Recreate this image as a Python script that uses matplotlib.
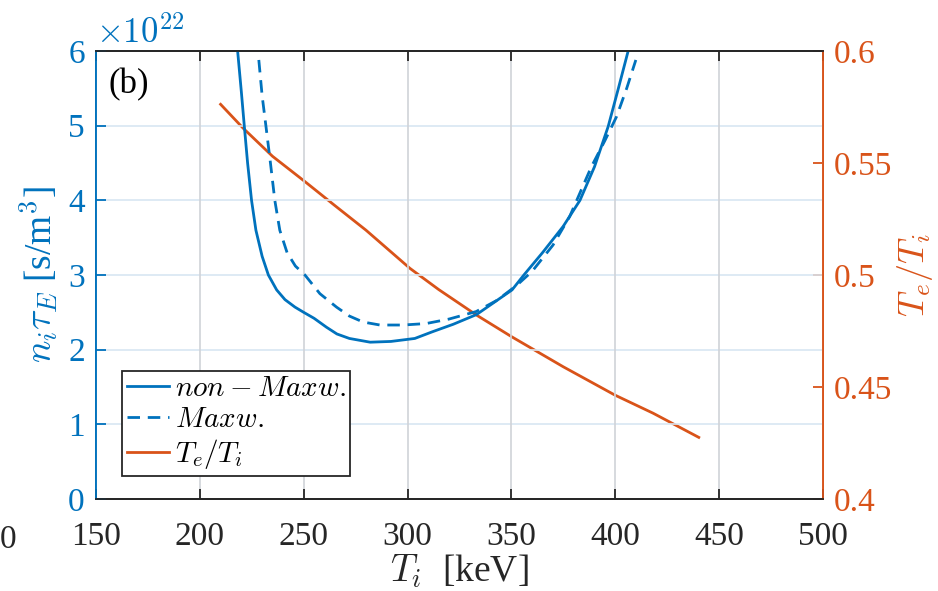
import matplotlib.pyplot as plt
from matplotlib.ticker import FixedLocator

plt.rcParams['font.family'] = ['Liberation Serif', 'DejaVu Serif']
plt.rcParams['mathtext.fontset'] = 'cm'

BLUE = '#0072BD'
ORANGE = '#D95319'
DARK = '#262626'

# non-Maxwellian n_i tau_E (x1e22)
t_nonmax = [218.2, 220.0, 221.4, 223.0, 224.9, 227.0, 230.0, 233.0, 237.0, 241.0,
            245.8, 250.0, 255.0, 261.0, 266.0, 272.0, 282.0, 292.0, 303.5, 312.0,
            322.0, 333.2, 341.0, 350.3, 356.0, 365.0, 374.9, 383.0, 390.0, 396.6,
            401.5, 406.2]
n_nonmax = [6.0, 5.45, 5.0, 4.5, 4.0, 3.6, 3.25, 3.0, 2.8, 2.67,
            2.57, 2.5, 2.42, 2.3, 2.21, 2.15, 2.10, 2.11, 2.15, 2.24,
            2.34, 2.47, 2.62, 2.80, 3.0, 3.3, 3.65, 4.0, 4.45, 4.99,
            5.5, 6.0]

# Maxwellian n_i tau_E (x1e22)
t_max = [228.4, 230.0, 231.8, 234.0, 236.1, 238.5, 242.0, 246.0, 250.6, 257.8,
         265.8, 272.0, 278.6, 286.7, 298.0, 309.0, 320.0, 333.0, 343.0, 352.5,
         360.0, 370.0, 378.0, 388.5, 395.0, 400.6, 405.5, 409.9]
n_max = [5.88, 5.4, 5.0, 4.5, 4.0, 3.6, 3.3, 3.12, 3.0, 2.75,
         2.57, 2.45, 2.37, 2.33, 2.33, 2.35, 2.41, 2.51, 2.66, 2.86,
         3.05, 3.4, 3.78, 4.45, 4.8, 5.12, 5.5, 5.88]

# electron to ion temperature ratio
t_ratio = [210.0, 220.9, 235.0, 250.6, 265.0, 280.0, 301.1, 315.0, 333.2,
           350.0, 375.0, 399.8, 418.2, 440.2]
te_ti = [0.5762, 0.5655, 0.5530, 0.5417, 0.5310, 0.5200, 0.5030, 0.4935, 0.4821,
         0.4725, 0.4590, 0.4464, 0.4383, 0.4275]

fig = plt.figure(figsize=(9.38, 5.91), dpi=100)
ax = fig.add_axes([0.1023, 0.1557, 0.7751, 0.758])
ax2 = ax.twinx()

l1, = ax.plot(t_nonmax, n_nonmax, color=BLUE, lw=2, label=r'$non-Maxw.$')
l2, = ax.plot(t_max, n_max, color=BLUE, lw=2, ls=(0, (4.5, 2.8)), label=r'$Maxw.$')
l3, = ax2.plot(t_ratio, te_ti, color=ORANGE, lw=2, label=r'$T_e/T_i$')

ax.set_xlim(150, 500)
ax.set_ylim(0, 6)
ax2.set_ylim(0.4, 0.6)
ax.xaxis.set_major_locator(FixedLocator([150, 200, 250, 300, 350, 400, 450, 500]))
ax.set_yticks([0, 1, 2, 3, 4, 5, 6])
ax2.set_yticks([0.4, 0.45, 0.5, 0.55, 0.6])
ax2.set_yticklabels(['0.4', '0.45', '0.5', '0.55', '0.6'])

ax.grid(True, axis='x', color='#d0d3d8', lw=1.2)
for y in [1, 2, 3, 4, 5]:
    ax.axhline(y, color='#d8e6f2', lw=1.2, zorder=0)

ax.tick_params(axis='x', direction='in', length=7, width=1.3, top=True,
               labelsize=24, colors=DARK, pad=16)
ax.tick_params(axis='y', direction='in', length=7, width=1.3,
               labelsize=24, colors=BLUE, pad=8)
ax2.tick_params(axis='y', direction='in', length=7, width=1.3,
                labelsize=24, colors=ORANGE, pad=8)

for a in (ax, ax2):
    a.spines['top'].set_color(DARK)
    a.spines['bottom'].set_color(DARK)
    a.spines['left'].set_color(BLUE)
    a.spines['right'].set_color(ORANGE)
    for s in a.spines.values():
        s.set_linewidth(1.3)

ax.set_xlabel(r'$T_i$  [keV]', fontsize=27, color=DARK, labelpad=1)
ax.set_ylabel(r'$n_i\tau_E$ [s/m$^3$]', fontsize=27, color=BLUE, labelpad=6)
ax2.set_ylabel(r'$T_e/T_i$', fontsize=26, color=ORANGE, labelpad=2)

ax.text(0.0, 1.0, r'$\times 10^{22}$', transform=ax.transAxes, fontsize=25,
        color=BLUE, ha='left', va='bottom')
ax.text(156, 5.55, '(b)', fontsize=25, color='black', va='center')
fig.text(0.0, 0.087, '0', fontsize=24, color=DARK, ha='left', va='center')

ax.set_zorder(ax2.get_zorder() + 1)
ax.patch.set_visible(False)
leg = ax.legend(handles=[l1, l2, l3], loc='lower left', bbox_to_anchor=(0.036, 0.052),
                fontsize=21, frameon=True, fancybox=False, edgecolor=DARK,
                framealpha=1, handlelength=1.45, handletextpad=0.2, borderpad=0.15,
                labelspacing=0.15, borderaxespad=0)
leg.get_frame().set_linewidth(1.3)

fig.savefig('out.png', dpi=100)
